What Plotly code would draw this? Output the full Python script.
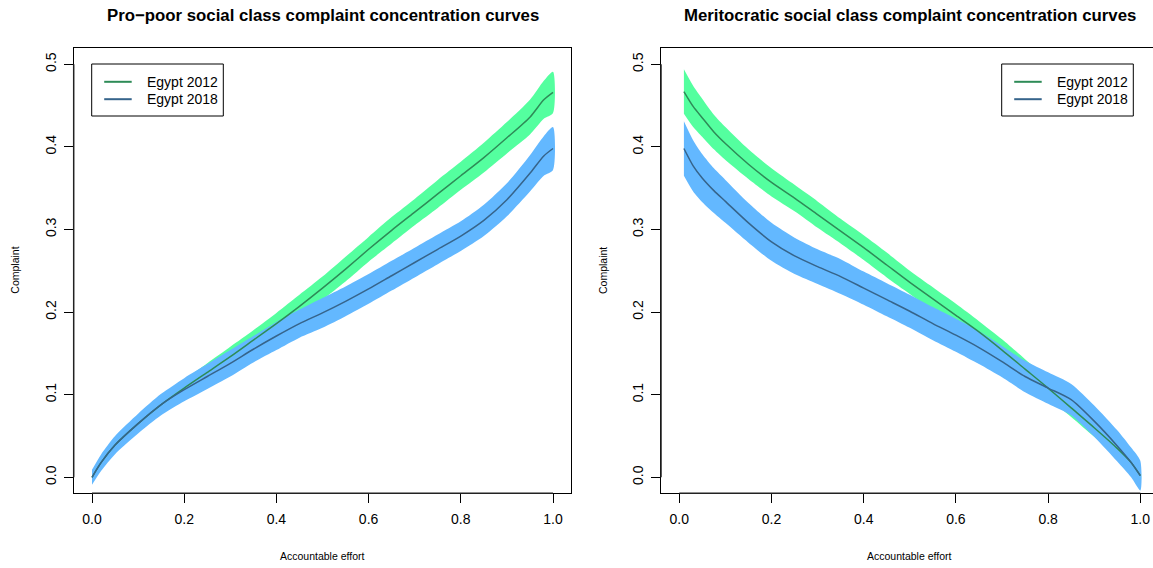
import plotly.graph_objects as go

# ---- Pro-poor panel -------------------------------------------------------
pp_x = [0.0, 0.02, 0.05, 0.1, 0.15, 0.2, 0.25, 0.3, 0.35, 0.4, 0.45, 0.5,
        0.55, 0.6, 0.65, 0.7, 0.75, 0.8, 0.85, 0.9, 0.95, 0.98, 1.0]
pp_2012 = [0.0, 0.018, 0.039, 0.065, 0.088, 0.108, 0.127, 0.146, 0.166, 0.186,
           0.207, 0.229, 0.252, 0.276, 0.299, 0.321, 0.343, 0.365, 0.387,
           0.411, 0.436, 0.457, 0.466]
pp_2012_ci = [0.005, 0.006, 0.007, 0.008, 0.009, 0.010, 0.011, 0.012, 0.012,
              0.013, 0.014, 0.014, 0.015, 0.015, 0.016, 0.016, 0.017, 0.017,
              0.018, 0.019, 0.021, 0.023, 0.025]
pp_2018 = [0.0, 0.018, 0.039, 0.065, 0.088, 0.106, 0.122, 0.138, 0.155, 0.171,
           0.186, 0.199, 0.213, 0.228, 0.244, 0.260, 0.276, 0.292, 0.311,
           0.336, 0.368, 0.389, 0.398]
pp_2018_ci = [0.009, 0.010, 0.011, 0.012, 0.013, 0.014, 0.015, 0.016, 0.016,
              0.017, 0.017, 0.018, 0.018, 0.018, 0.018, 0.018, 0.018, 0.018,
              0.019, 0.020, 0.022, 0.024, 0.026]

# ---- Meritocratic panel ---------------------------------------------------
mc_x = [0.01, 0.03, 0.05, 0.075, 0.1, 0.15, 0.2, 0.25, 0.3, 0.35, 0.4, 0.45,
        0.5, 0.55, 0.6, 0.65, 0.7, 0.75, 0.8, 0.85, 0.9, 0.95, 0.98, 1.0]
mc_2012 = [0.467, 0.449, 0.435, 0.418, 0.404, 0.379, 0.357, 0.338, 0.318,
           0.298, 0.278, 0.257, 0.236, 0.216, 0.196, 0.176, 0.154, 0.131,
           0.108, 0.084, 0.060, 0.035, 0.018, 0.002]
mc_2012_ci = [0.027, 0.025, 0.023, 0.021, 0.020, 0.018, 0.017, 0.016, 0.016,
              0.015, 0.015, 0.015, 0.014, 0.014, 0.014, 0.013, 0.013, 0.012,
              0.012, 0.011, 0.011, 0.010, 0.010, 0.010]
mc_2018 = [0.398, 0.377, 0.362, 0.347, 0.334, 0.308, 0.285, 0.268, 0.255,
           0.243, 0.229, 0.215, 0.201, 0.186, 0.172, 0.157, 0.140, 0.122,
           0.108, 0.094, 0.068, 0.038, 0.018, 0.002]
mc_2018_ci = [0.033, 0.031, 0.029, 0.027, 0.026, 0.024, 0.023, 0.022, 0.021,
              0.021, 0.020, 0.020, 0.020, 0.020, 0.020, 0.020, 0.019, 0.019,
              0.019, 0.019, 0.019, 0.019, 0.018, 0.018]

series_names = ["Egypt 2012", "Egypt 2018"]
titles = ["Pro\u2212poor social class complaint concentration curves",
          "Meritocratic social class complaint concentration curves"]
x_ticks = [0.0, 0.2, 0.4, 0.6, 0.8, 1.0]
x_ticktext = ["0.0", "0.2", "0.4", "0.6", "0.8", "1.0"]
y_ticks = [0.0, 0.1, 0.2, 0.3, 0.4, 0.5]
y_ticktext = ["0.0", "0.1", "0.2", "0.3", "0.4", "0.5"]

LINE_COLORS = ["#2E8B57", "#36648B"]
BAND_COLORS = ["#54FF9F", "#63B8FF"]
FONT = "Liberation Sans, Arial, Helvetica, sans-serif"

W, H = 1153, 568


def px_x(p):
    return p / W


def px_y(p):
    return 1 - p / H


fig = go.Figure()


def add_panel(xs, curves, cis, xa, ya):
    # confidence bands first (2018 band over 2012 band), then the curves
    for y, ci, col in zip(curves, cis, BAND_COLORS):
        upper = [v + c for v, c in zip(y, ci)]
        lower = [v - c for v, c in zip(y, ci)]
        fig.add_trace(go.Scatter(
            x=list(xs) + list(xs)[::-1], y=upper + lower[::-1],
            fill="toself", fillcolor=col, mode="lines",
            line=dict(width=0, color=col, shape="spline", smoothing=0.7),
            hoverinfo="skip", showlegend=False, xaxis=xa, yaxis=ya))
    for y, col, name in zip(curves, LINE_COLORS, series_names):
        fig.add_trace(go.Scatter(
            x=xs, y=y, mode="lines", name=name,
            line=dict(color=col, width=1.5, shape="spline", smoothing=0.7),
            showlegend=False, xaxis=xa, yaxis=ya))


add_panel(pp_x, [pp_2012, pp_2018], [pp_2012_ci, pp_2018_ci], "x", "y")
add_panel(mc_x, [mc_2012, mc_2018], [mc_2012_ci, mc_2018_ci], "x2", "y2")

ydom = [px_y(493.3), px_y(48)]
axis_common = dict(
    showgrid=False, zeroline=False, showline=True, linecolor="#000000",
    linewidth=1, ticks="outside", tickcolor="#000000", tickwidth=1,
    tickfont=dict(family=FONT, size=14, color="#000000"),
)

fig.update_layout(
    width=W, height=H, margin=dict(l=0, r=0, t=0, b=0),
    paper_bgcolor="white", plot_bgcolor="white", showlegend=False,
    xaxis=dict(domain=[px_x(73.7), px_x(571.3)], range=[-0.0397, 1.0397],
               tickvals=x_ticks, ticktext=x_ticktext, ticklen=9, mirror=True,
               ticklabelstandoff=4, anchor="y", **axis_common),
    yaxis=dict(domain=ydom, range=[-0.0194, 0.5197], tickvals=y_ticks,
               ticktext=y_ticktext, ticklen=9, tickangle=-90, mirror=True,
               ticklabelstandoff=2, anchor="x", **axis_common),
    xaxis2=dict(domain=[px_x(661), 1.0], range=[-0.0397, 1.0275],
                tickvals=x_ticks, ticktext=x_ticktext, ticklen=9, mirror=True,
                ticklabelstandoff=4, anchor="y2", **axis_common),
    yaxis2=dict(domain=ydom, range=[-0.0194, 0.5197], tickvals=y_ticks,
                ticktext=y_ticktext, ticklen=9, tickangle=-90, mirror=False,
                ticklabelstandoff=2, anchor="x2", **axis_common),
)

shapes = []
annotations = []

# axis segments spanning the tick range
for xa, ya in (("x", "y"), ("x2", "y2")):
    shapes.append(dict(type="line", xref=xa, yref=ya + " domain",
                       x0=0, x1=1, y0=0, y1=0,
                       line=dict(color="#222222", width=1.5)))
    shapes.append(dict(type="line", xref=xa + " domain", yref=ya,
                       x0=0, x1=0, y0=0, y1=0.5,
                       line=dict(color="#222222", width=1.5)))

# legends
for left in (91.7, 1001.7):
    top, bottom, right = 64.0, 116.0, left + 131.6
    shapes.append(dict(type="rect", xref="paper", yref="paper",
                       x0=px_x(left), x1=px_x(right),
                       y0=px_y(bottom), y1=px_y(top),
                       line=dict(color="#000000", width=1),
                       fillcolor="white"))
    for i, (name, col) in enumerate(zip(series_names, LINE_COLORS)):
        ly = 81.8 + i * 17.4
        shapes.append(dict(type="line", xref="paper", yref="paper",
                           x0=px_x(left + 12.5), x1=px_x(left + 40.0),
                           y0=px_y(ly), y1=px_y(ly),
                           line=dict(color=col, width=2)))
        annotations.append(dict(
            text=name, xref="paper", yref="paper", x=px_x(left + 53.3),
            y=px_y(ly), xanchor="left", yanchor="middle", showarrow=False,
            font=dict(family=FONT, size=14, color="#000000")))

# titles and axis labels
for cx, ax_left, title in ((322.5, 73.7, titles[0]), (909.8, 661.0, titles[1])):
    annotations.append(dict(
        text="<b>" + title + "</b>", xref="paper", yref="paper",
        x=px_x(cx), y=px_y(15), xanchor="center", yanchor="middle",
        showarrow=False, font=dict(family=FONT, size=16.8, color="#000000")))
    annotations.append(dict(
        text="Accountable effort", xref="paper", yref="paper",
        x=px_x(cx), y=px_y(556), xanchor="center", yanchor="middle",
        showarrow=False, font=dict(family=FONT, size=10.5, color="#000000")))
    annotations.append(dict(
        text="Complaint", xref="paper", yref="paper",
        x=px_x(ax_left - 58.7), y=px_y(270.7), xanchor="center",
        yanchor="middle", textangle=-90, showarrow=False,
        font=dict(family=FONT, size=10.5, color="#000000")))

fig.update_layout(shapes=shapes, annotations=annotations)

fig.write_html("out.html")
